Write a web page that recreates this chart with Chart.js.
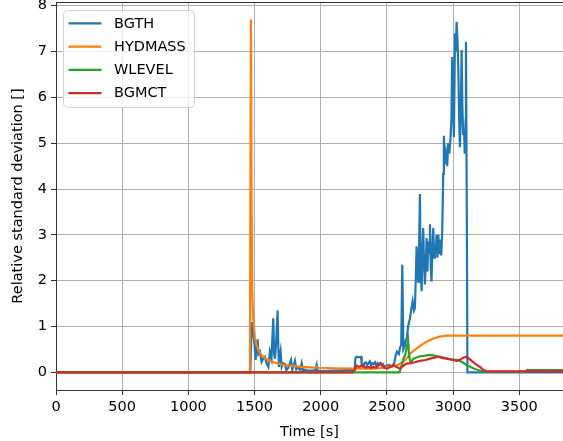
<!DOCTYPE html>
<html>
<head>
<meta charset="utf-8">
<script src="https://cdn.jsdelivr.net/npm/chart.js@4/dist/chart.umd.min.js"></script>
<style>
  html, body { margin: 0; padding: 0; background: #fff; }
  canvas { display: block; }
</style>
</head>
<body>
<canvas id="chart" width="563" height="441"></canvas>
<script>
// Series names and colours (matplotlib tab10 cycle)
const seriesNames = ['BGTH', 'HYDMASS', 'WLEVEL', 'BGMCT'];
const seriesColors = ['#1f77b4', '#ff7f0e', '#2ca02c', '#d62728'];

// Axis ticks
const xTicks = [0, 500, 1000, 1500, 2000, 2500, 3000, 3500];
const yTicks = [0, 1, 2, 3, 4, 5, 6, 7, 8];

// BGTH: time [s] and relative standard deviation
const bgthTime = [
  0, 1468, 1478, 1486, 1494, 1500, 1508, 1515, 1523, 1530,
  1541, 1553, 1565, 1578, 1590, 1604, 1616, 1628, 1641, 1648,
  1654, 1662, 1674, 1680, 1684, 1690, 1697, 1705, 1715, 1730,
  1740, 1755, 1775, 1785, 1795, 1805, 1815, 1830, 1845, 1856,
  1866, 1880, 1900, 1930, 1960, 1969, 1975, 2000, 2100, 2200,
  2255, 2262, 2270, 2290, 2305, 2310, 2320, 2330, 2340, 2350,
  2360, 2370, 2380, 2390, 2400, 2410, 2420, 2430, 2440, 2450,
  2460, 2470, 2480, 2500, 2520, 2540, 2555, 2565, 2575, 2590,
  2600, 2608, 2616, 2624, 2632, 2642, 2650, 2660, 2674, 2685,
  2694, 2704, 2711, 2719, 2724, 2730, 2736, 2742, 2749, 2755,
  2762, 2768, 2774, 2780, 2787, 2795, 2800, 2806, 2812, 2818,
  2825, 2831, 2837, 2843, 2850, 2856, 2862, 2868, 2875, 2881,
  2888, 2894, 2900, 2910, 2918, 2925, 2930, 2938, 2946, 2955,
  2963, 2971, 2980, 2987, 2993, 3000, 3006, 3014, 3020, 3026,
  3033, 3040, 3046, 3051, 3058, 3064, 3070, 3076, 3082, 3088,
  3094, 3097, 3104, 3108, 3830
];
const bgthValue = [
  0, 0, 1.1, 0.9, 0.75, 0.6, 0.27, 0.5, 0.72, 0.4,
  0.45, 0.23, 0.3, 0.34, 0.2, 0.12, 0.45, 0.3, 1.18, 0.4,
  0.3, 0.6, 1.35, 0.5, 0.12, 0.3, 0.45, 0.12, 0.2, 0.18,
  0.05, 0.1, 0.27, 0.06, 0.15, 0.25, 0.06, 0.1, 0.05, 0.2,
  0.04, 0.06, 0.04, 0.04, 0.05, 0.16, 0.04, 0.03, 0.04, 0.05,
  0.05, 0.3, 0.34, 0.33, 0.34, 0.15, 0.12, 0.2, 0.22, 0.16,
  0.2, 0.24, 0.15, 0.2, 0.18, 0.22, 0.14, 0.2, 0.16, 0.2,
  0.15, 0.18, 0.12, 0.15, 0.16, 0.13, 0.2, 0.35, 0.45, 0.4,
  0.55, 0.6, 2.35, 0.5, 0.55, 0.7, 0.74, 1.0, 1.18, 1.4,
  1.55, 1.35, 1.4, 2.14, 2.75, 2.3, 1.98, 2.5, 3.89, 2.2,
  1.77, 2.6, 3.15, 2.4, 1.92, 2.5, 2.93, 2.2, 2.86, 2.6,
  3.23, 2.3, 1.98, 2.7, 3.15, 2.5, 2.8, 2.6, 3.0, 2.5,
  3.0, 2.6, 2.9, 2.55, 3.1, 4.33, 5.16, 4.54, 4.76, 4.5,
  5.0, 4.77, 5.1, 5.5, 6.88, 5.9, 5.13, 7.4, 7.0, 7.65,
  7.25, 6.5, 5.5, 4.91, 5.6, 7.03, 5.8, 5.2, 5.3, 4.77,
  5.5, 7.21, 3.0, 0, 0
];

// HYDMASS
const hydmassTime = [
  0, 1465, 1472, 1477, 1482, 1490, 1503, 1515, 1528, 1545,
  1566, 1595, 1629, 1680, 1730, 1790, 1856, 1920, 1981, 2107,
  2250, 2400, 2480, 2530, 2580, 2623, 2649, 2674, 2700, 2724,
  2760, 2800, 2850, 2900, 2950, 3000, 3830
];
const hydmassValue = [
  0, 0, 7.7, 4.0, 1.8, 1.18, 0.74, 0.6, 0.49, 0.4,
  0.34, 0.28, 0.23, 0.19, 0.16, 0.14, 0.12, 0.11, 0.1, 0.09,
  0.08, 0.08, 0.1, 0.13, 0.16, 0.23, 0.3, 0.4, 0.47, 0.52,
  0.6, 0.67, 0.74, 0.78, 0.8, 0.8, 0.8
];

// WLEVEL
const wlevelTime = [
  0, 2595, 2605, 2620, 2640, 2660, 2668, 2675, 2685, 2700,
  2720, 2750, 2780, 2820, 2850, 2880, 2920, 2960, 3000, 3040,
  3070, 3100, 3130, 3160, 3200, 3250, 3300, 3550, 3570, 3830
];
const wlevelValue = [
  0, 0, 0.1, 0.25, 0.4, 0.7, 0.35, 0.25, 0.24, 0.3,
  0.32, 0.35, 0.36, 0.38, 0.37, 0.35, 0.33, 0.3, 0.28, 0.27,
  0.22, 0.16, 0.12, 0.08, 0.04, 0.01, 0.01, 0.01, 0.05, 0.05
];

// BGMCT
const bgmctTime = [
  0, 2240, 2255, 2270, 2290, 2320, 2340, 2360, 2380, 2400,
  2420, 2434, 2450, 2460, 2480, 2500, 2530, 2548, 2570, 2598,
  2620, 2649, 2680, 2710, 2749, 2790, 2825, 2860, 2888, 2920,
  2950, 2976, 3000, 3026, 3050, 3076, 3102, 3120, 3140, 3170,
  3202, 3230, 3253, 3550, 3560, 3570, 3830
];
const bgmctValue = [
  0, 0, 0.05, 0.15, 0.12, 0.16, 0.1, 0.12, 0.1, 0.12,
  0.1, 0.16, 0.2, 0.18, 0.1, 0.08, 0.12, 0.16, 0.12, 0.08,
  0.14, 0.19, 0.2, 0.22, 0.25, 0.27, 0.3, 0.32, 0.34, 0.31,
  0.3, 0.28, 0.27, 0.25, 0.27, 0.32, 0.34, 0.3, 0.25, 0.18,
  0.12, 0.05, 0.02, 0.02, 0.05, 0.02, 0.02
];

const seriesTimes = [bgthTime, hydmassTime, wlevelTime, bgmctTime];
const seriesValues = [bgthValue, hydmassValue, wlevelValue, bgmctValue];

const FONT_FAMILY = 'DejaVu Sans';
const FONT_SIZE = 14.5;
Chart.defaults.font.family = FONT_FAMILY;
Chart.defaults.font.size = FONT_SIZE;
Chart.defaults.color = '#000';

const toPoints = (times, values) => times.map((t, i) => ({ x: t, y: values[i] }));

// Framed legend in the upper-left corner of the plot area
const cornerLegend = {
  id: 'cornerLegend',
  afterDatasetsDraw(chart) {
    const ctx = chart.ctx;
    const x0 = 63.5, y0 = 10.5, w = 131, h = 97, r = 4;
    ctx.save();
    ctx.beginPath();
    ctx.roundRect(x0, y0, w, h, r);
    ctx.fillStyle = 'rgba(255,255,255,0.8)';
    ctx.fill();
    ctx.strokeStyle = '#d0d0d0';
    ctx.lineWidth = 1;
    ctx.stroke();
    ctx.font = `${FONT_SIZE}px "${FONT_FAMILY}"`;
    ctx.textBaseline = 'middle';
    ctx.textAlign = 'left';
    chart.data.datasets.forEach((ds, i) => {
      const y = 23.3 + i * 23.3;
      ctx.beginPath();
      ctx.moveTo(68.5, y);
      ctx.lineTo(101.5, y);
      ctx.strokeStyle = ds.borderColor;
      ctx.lineWidth = 2.2;
      ctx.stroke();
      ctx.fillStyle = '#000';
      ctx.fillText(ds.label, 114, y + 0.5);
    });
    ctx.restore();
  }
};

// Top frame line of the axes
const topSpine = {
  id: 'topSpine',
  afterDatasetsDraw(chart) {
    const { ctx, chartArea } = chart;
    ctx.save();
    ctx.beginPath();
    ctx.moveTo(chartArea.left, chartArea.top + 0.5);
    ctx.lineTo(chartArea.right, chartArea.top + 0.5);
    ctx.strokeStyle = '#333';
    ctx.lineWidth = 1;
    ctx.stroke();
    ctx.restore();
  }
};

new Chart(document.getElementById('chart'), {
  type: 'line',
  data: {
    datasets: seriesNames.map((name, i) => ({
      label: name,
      data: toPoints(seriesTimes[i], seriesValues[i]),
      borderColor: seriesColors[i],
      backgroundColor: seriesColors[i],
      borderWidth: 2.2,
      pointRadius: 0,
      tension: 0,
      fill: false,
      order: seriesNames.length - i
    }))
  },
  options: {
    responsive: false,
    animation: false,
    devicePixelRatio: 1,
    layout: { padding: { top: 2, left: 0, right: 0, bottom: 0 } },
    plugins: {
      legend: { display: false },
      tooltip: { enabled: false }
    },
    scales: {
      x: {
        type: 'linear',
        min: 0,
        max: 3830,
        afterBuildTicks: s => { s.ticks = xTicks.map(v => ({ value: v })); },
        afterFit: s => { s.height = 51; s.paddingLeft = 0; s.paddingRight = 0; },
        grid: { color: '#b0b0b0', lineWidth: 1, tickColor: '#333', tickLength: 5, drawTicks: true },
        border: { color: '#333', width: 1 },
        ticks: { padding: 4, maxRotation: 0, autoSkip: false, color: '#000', callback: v => String(v) },
        title: { display: true, text: 'Time [s]', color: '#000', padding: { top: 0, bottom: 0 } }
      },
      y: {
        type: 'linear',
        min: -0.385,
        max: 8.08,
        afterBuildTicks: s => { s.ticks = yTicks.map(v => ({ value: v })); },
        afterFit: s => { s.width = 56; s.paddingTop = 0; s.paddingBottom = 0; },
        grid: { color: '#b0b0b0', lineWidth: 1, tickColor: '#333', tickLength: 5, drawTicks: true },
        border: { color: '#333', width: 1 },
        ticks: { padding: 4, color: '#000', callback: v => String(v) },
        title: { display: true, text: 'Relative standard deviation []', color: '#000', padding: { top: 10, bottom: 0 } }
      }
    }
  },
  plugins: [topSpine, cornerLegend]
});
</script>
</body>
</html>
